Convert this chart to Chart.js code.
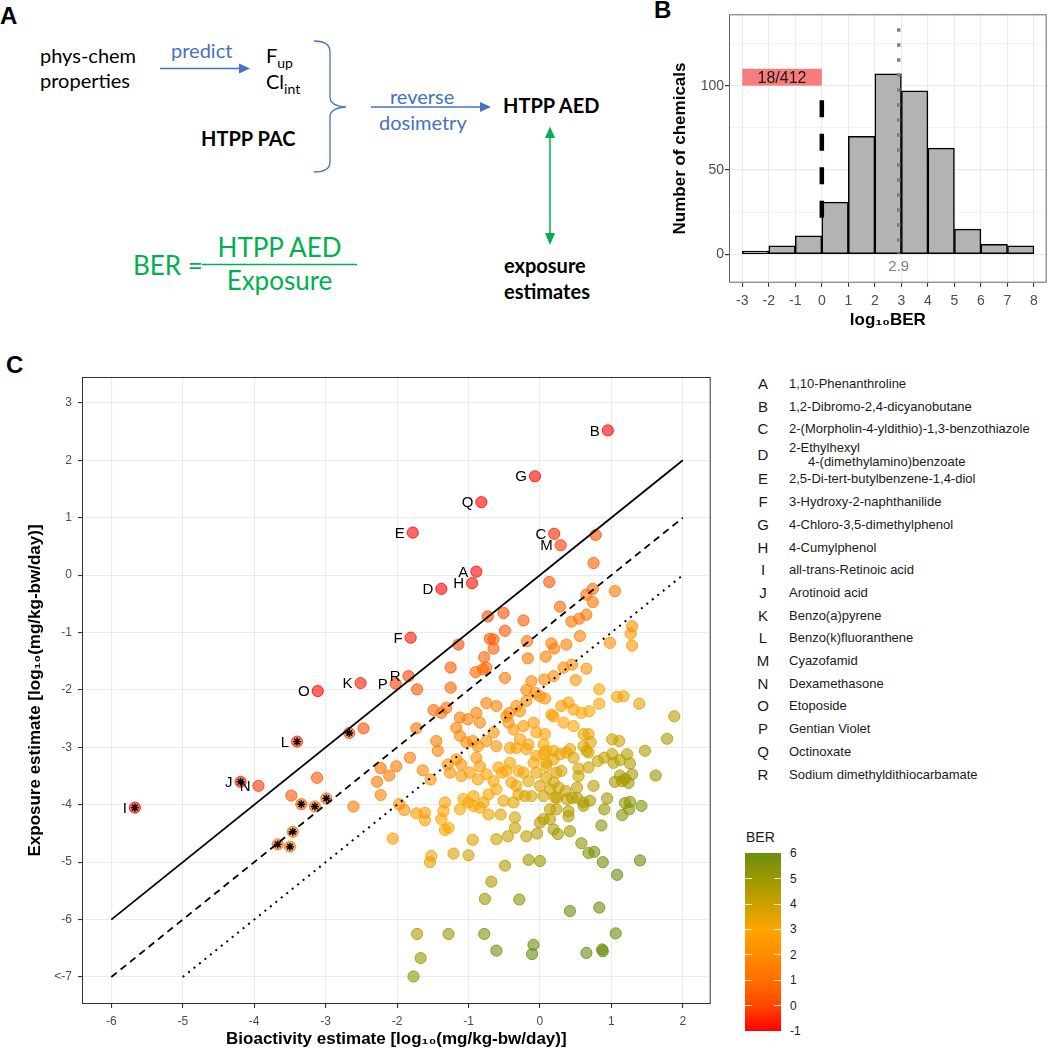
<!DOCTYPE html>
<html>
<head>
<meta charset="utf-8">
<script src="https://cdn.jsdelivr.net/npm/chart.js@4.4.1/dist/chart.umd.min.js"></script>
<style>
  body { margin: 0; background: #fff; width: 1049px; height: 1050px; position: relative; overflow: hidden;
         font-family: 'Liberation Sans', Arial, sans-serif; }
  #art { position: absolute; left: 0; top: 0; }
  #histB { position: absolute; left: 660px; top: 0; }
  #scatterC { position: absolute; left: 0; top: 340px; }
  .legLetter { position: absolute; width: 20px; text-align: center; font-size: 15px; color: #1a1a1a;
               transform: translateY(-50%); line-height: 16px; }
  .legName { position: absolute; font-size: 13px; color: #1a1a1a; white-space: nowrap;
             transform: translateY(-50%); line-height: 14px; }
  .cbLabel { position: absolute; font-size: 12px; color: #1a1a1a; transform: translateY(-50%); line-height: 12px; }
  .cbTick { position: absolute; height: 1px; width: 7px; background: rgba(255,255,255,0.8); }
</style>
</head>
<body>

<svg id="art" width="1049" height="1050">
  <g font-family="Lato, 'Open Sans', sans-serif" font-size="20" fill="#000">
    <text x="40" y="63">phys-chem</text>
    <text x="40" y="88">properties</text>
    <text x="171" y="58" fill="#4472c4">predict</text>
    <line x1="160" y1="68.5" x2="240" y2="68.5" stroke="#4472c4" stroke-width="1.5"/>
    <polygon points="239,63.5 250,68.5 239,73.5" fill="#4472c4"/>
    <text x="266" y="63">F<tspan font-size="14" dy="5">up</tspan></text>
    <text x="266" y="89">Cl<tspan font-size="14" dy="5">int</tspan></text>
    <path d="M314,41 Q330,41 330,52 L330,97 Q330,106 346,107 Q330,108 330,117 L330,162 Q330,172 314,172"
          fill="none" stroke="#4472c4" stroke-width="1.3"/>
    <text x="201" y="146" font-weight="bold">HTPP PAC</text>
    <text x="390" y="104" fill="#4472c4">reverse</text>
    <text x="379" y="130" fill="#4472c4">dosimetry</text>
    <line x1="371" y1="107" x2="481" y2="107" stroke="#4472c4" stroke-width="1.5"/>
    <polygon points="480,102 491,107 480,112" fill="#4472c4"/>
    <text x="503" y="113" font-weight="bold">HTPP AED</text>
    <line x1="550" y1="137" x2="550" y2="234" stroke="#00b050" stroke-width="1.5"/>
    <polygon points="545,138 550,126.5 555,138" fill="#00b050"/>
    <polygon points="545,233 550,245 555,233" fill="#00b050"/>
    <text x="504" y="273" font-weight="bold">exposure</text>
    <text x="504" y="299" font-weight="bold">estimates</text>
    <g fill="#00b050" font-size="26">
      <text x="133" y="275">BER =</text>
      <text x="279.5" y="257" text-anchor="middle">HTPP AED</text>
      <text x="279.5" y="290" text-anchor="middle">Exposure</text>
    </g>
    <line x1="202" y1="264.5" x2="357" y2="264.5" stroke="#00b050" stroke-width="1.5"/>
  </g>
  <g font-family="'Liberation Sans', Arial, sans-serif" font-weight="bold" font-size="24" fill="#000">
    <text x="0" y="24">A</text>
    <text x="654" y="18">B</text>
    <text x="6" y="373">C</text>
  </g>
</svg>

<canvas id="histB" width="389" height="340"></canvas>
<canvas id="scatterC" width="720" height="710"></canvas>
<div id="legend"></div>
<div id="cbar"></div>

<script>
// ---- panel B: histogram of log10 BER ----
const histBinStart = [-3, -2, -1, 0, 1, 2, 3, 4, 5, 6, 7];
const histCounts = [2, 5, 11, 31, 70, 107, 97, 63, 15, 6, 5];
const histXTicks = [-3, -2, -1, 0, 1, 2, 3, 4, 5, 6, 7, 8];
const histYTicks = [0, 25, 50, 75, 100, 125];
const medianBER = 2.9;
const belowText = '18/412';

// ---- panel C: bioactivity vs exposure (log10 mg/kg-bw/day) ----
const chemPoints = [
  [-2.67,-2.75],[-2.47,-2.67],[-3.12,-3.53],[-3.48,-3.84],[-3.34,-3.99],[-3.15,-4.03],[-2.99,-3.89],
  [-2.61,-4.03],[-3.46,-4.47],[-3.67,-4.69],[-3.50,-4.73],[-2.28,-3.60],[-2.23,-3.36],[-2.23,-3.83],
  [0.78,0.70],[0.75,0.21],
  [0.13,-0.12],[0.28,-0.55],[0.44,-0.81],[-0.51,-0.66],[-0.73,-0.72],[-0.23,-0.79],[-0.49,-0.97],
  [-1.14,-1.21],[-0.70,-1.11],[-0.65,-1.12],[-0.65,-1.28],[-0.18,-1.15],[0.16,-1.19],[0.20,-1.28],
  [0.37,-1.21],[-0.78,-1.43],[-0.17,-1.45],[0.08,-1.42],[-1.25,-1.61],[-0.90,-1.69],[-0.80,-1.64],
  [-0.75,-1.61],[-1.72,-1.99],[-1.25,-1.96],[-0.49,-1.79],[-0.12,-1.85],[0.06,-1.82],[0.19,-1.76],
  [0.33,-1.61],[0.45,-1.56],[-0.19,-2.00],[-0.07,-2.05],[0.00,-2.11],[0.07,-2.15],[-1.49,-2.35],
  [-1.38,-2.40],[-1.31,-2.31],[-1.12,-2.48],[-0.75,-2.23],[-0.61,-2.28],[-0.43,-2.40],[-0.33,-2.28],
  [-0.28,-2.37],[-0.19,-2.19],[0.16,-2.43],[0.30,-2.28],[0.40,-2.22],[0.47,-2.34],[-1.73,-2.67],
  [-1.17,-2.66],[-1.01,-2.51],[-0.89,-2.40],[-0.84,-2.57],[-0.65,-2.74],[-0.47,-2.46],[-0.44,-2.57],
  [-0.37,-2.69],[-0.23,-2.63],[-0.09,-2.57],[-0.05,-2.74],[0.07,-2.77],[0.19,-2.46],[0.33,-2.57],
  [0.47,-2.63],[-1.45,-2.89],[-1.43,-3.06],[-1.12,-2.80],[-1.03,-2.91],[-0.94,-2.89],[-0.87,-2.98],
  [-0.75,-2.89],[-0.61,-2.98],[-0.42,-3.01],[-0.28,-2.86],[-0.19,-3.03],[-1.82,-3.18],[0.19,-3.06],
  [0.37,-3.09],
  [1.05,-0.28],[0.74,-0.24],[0.65,-0.34],[0.74,-0.47],[0.65,-0.69],[0.55,-0.76],[1.29,-0.89],
  [1.27,-1.02],[1.29,-1.23],[0.98,-1.18],[0.56,-1.06],[0.65,-1.63],[0.50,-1.83],[0.83,-1.99],
  [1.08,-2.12],[1.17,-2.11],[1.39,-2.24],[0.83,-2.24],[0.69,-2.37],[0.58,-2.40],[1.88,-2.46],
  [0.61,-2.77],[0.68,-2.77],[0.71,-2.91],[1.01,-2.86],[1.11,-2.89],[1.78,-2.85],[1.47,-3.06],
  [1.22,-3.12],[1.01,-3.12],[0.90,-3.18],[0.65,-3.06],
  [-2.01,-3.33],[-2.11,-3.49],[-1.64,-3.40],[-1.53,-3.56],[-1.29,-3.30],[-1.26,-3.44],[-1.10,-3.30],
  [-1.10,-3.50],[-0.98,-3.44],[-0.84,-3.33],[-0.87,-3.56],[-0.75,-3.47],[-0.65,-3.59],[-0.58,-3.35],
  [-0.53,-3.44],[-0.42,-3.27],[-0.40,-3.61],[-0.33,-3.67],[-0.23,-3.44],[-0.09,-3.27],[-0.05,-3.44],
  [0.05,-3.12],[0.09,-3.27],[0.19,-3.21],[0.23,-3.44],[0.00,-3.67],[0.14,-3.73],[0.21,-3.87],
  [-0.30,-3.82],[-0.21,-3.85],[-0.37,-3.96],[-0.51,-3.93],[-0.55,-4.17],[-0.72,-3.82],[-0.79,-3.96],
  [-0.93,-3.85],[-1.00,-3.96],[-1.07,-3.90],[-1.12,-4.08],[-0.93,-4.02],[-0.84,-4.05],[-0.72,-4.17],
  [-1.33,-3.96],[-1.35,-4.11],[-1.38,-4.25],[-1.28,-4.40],[-1.33,-4.44],[-1.61,-4.14],[-1.61,-4.27],
  [-1.73,-4.15],[-1.90,-4.09],[-1.97,-3.99],[-2.06,-4.59],[-1.52,-4.89],[-1.54,-5.00],[-1.21,-4.85],
  [-1.00,-4.88],[-0.94,-4.61],[-0.61,-4.60],[-0.45,-4.55],[-0.35,-4.22],[-0.35,-4.40],[-0.19,-4.55],
  [-0.04,-4.50],[-0.49,-5.06],[-0.16,-4.96],[0.00,-4.98],[0.05,-4.25],[0.14,-4.25],[0.19,-4.43],
  [0.23,-4.08],[-0.33,-3.01],[-0.16,-2.95],[0.05,-2.95],[0.09,-3.06],[-0.05,-3.15],[-0.47,-3.41],
  [-0.30,-3.41],[-0.16,-3.59],[0.09,-3.53],[0.19,-3.61],[0.26,-3.70],[-0.12,-3.85],[0.05,-3.85],
  [0.14,-4.08],[0.00,-4.31],[-0.61,-3.73],[-1.17,-3.21],[-0.89,-3.18],
  [1.26,-3.28],[1.12,-3.22],[0.81,-3.24],[1.03,-3.27],[0.68,-3.35],[0.54,-3.37],[0.54,-3.50],
  [0.42,-3.03],[0.61,-2.98],[0.68,-3.09],[0.28,-3.12],[0.47,-3.18],[0.09,-3.33],[0.30,-3.41],
  [1.62,-3.49],[1.12,-3.49],[1.19,-3.55],[1.29,-3.47],[1.05,-3.60],[1.24,-3.62],[1.15,-3.59],
  [0.75,-3.67],[0.52,-3.70],[0.36,-3.76],[0.24,-3.88],[0.38,-3.90],[0.45,-3.88],[0.61,-3.96],
  [0.70,-3.93],[0.94,-3.89],[0.61,-4.02],[0.52,-3.88],[0.40,-4.11],[0.40,-4.20],[0.25,-4.51],
  [0.42,-4.46],[0.90,-4.08],[0.86,-4.36],[1.19,-3.97],[1.26,-3.95],[1.25,-4.08],[1.15,-4.18],
  [1.42,-4.02],[0.58,-4.67],[0.68,-4.84],[0.76,-4.82],[0.88,-5.00],[1.40,-4.97],[1.08,-5.22],
  [-0.68,-5.34],[-0.77,-5.64],[-0.29,-5.65],[0.42,-5.85],[0.83,-5.79],[-1.72,-6.25],[-1.28,-6.25],
  [-0.78,-6.25],[1.06,-6.24],[-1.67,-6.67],[-0.61,-6.54],[-0.09,-6.44],[-0.11,-6.60],[0.65,-6.58],
  [0.87,-6.52],[0.88,-6.55],[-1.77,-6.99]
];
const labelLetters = ['A','B','C','D','E','F','G','H','I','J','K','L','M','N','O','P','Q','R'];
const labelPoints = [
  [-0.89,0.06],[0.95,2.52],[0.20,0.72],[-1.38,-0.24],[-1.78,0.74],[-1.81,-1.09],[-0.07,1.72],
  [-0.95,-0.14],[-5.67,-4.05],[-4.19,-3.60],[-2.51,-1.88],[-3.40,-2.90],[0.29,0.52],[-3.94,-3.67],
  [-3.11,-2.02],[-2.02,-1.89],[-0.82,1.27],[-1.84,-1.76]
];
const labelNames = [
  '1,10-Phenanthroline', '1,2-Dibromo-2,4-dicyanobutane', '2-(Morpholin-4-yldithio)-1,3-benzothiazole',
  '2-Ethylhexyl|4-(dimethylamino)benzoate', '2,5-Di-tert-butylbenzene-1,4-diol', '3-Hydroxy-2-naphthanilide',
  '4-Chloro-3,5-dimethylphenol', '4-Cumylphenol', 'all-trans-Retinoic acid', 'Arotinoid acid',
  'Benzo(a)pyrene', 'Benzo(k)fluoranthene', 'Cyazofamid', 'Dexamethasone', 'Etoposide',
  'Gentian Violet', 'Octinoxate', 'Sodium dimethyldithiocarbamate'
];
const starredPoints = [
  [-5.67,-4.05],[-4.19,-3.60],[-3.40,-2.90],[-2.67,-2.75],[-3.34,-3.99],[-3.15,-4.03],
  [-2.99,-3.89],[-3.46,-4.47],[-3.67,-4.69],[-3.50,-4.73]
];
const solidLine = [[-6,-6],[2,2]];     // BER = 1
const dashedLine = [[-6,-7],[2,1]];    // BER = 10
const dottedLine = [[-5,-7],[2,0]];    // BER = 100
const scatterXTicks = [-6, -5, -4, -3, -2, -1, 0, 1, 2];
const scatterYTicks = [-7, -6, -5, -4, -3, -2, -1, 0, 1, 2, 3];

// colour scale for BER
const berStops = [-1, 0, 1, 2, 3, 4, 5, 6];
const berColors = ['#ff0000','#ff4800','#ff6e00','#ff8c00','#ffa500','#c9a100','#9a9800','#6b8e10'];

function hexRgb(h) { return [1, 3, 5].map(i => parseInt(h.substr(i, 2), 16)); }
function berColor(b, a) {
  b = Math.max(berStops[0], Math.min(berStops[berStops.length - 1], b));
  let i = 0;
  while (i < berStops.length - 2 && b > berStops[i + 1]) i++;
  const t = (b - berStops[i]) / (berStops[i + 1] - berStops[i]);
  const c0 = hexRgb(berColors[i]), c1 = hexRgb(berColors[i + 1]);
  const c = c0.map((v, k) => Math.round(v + (c1[k] - v) * t));
  return `rgba(${c[0]},${c[1]},${c[2]},${a})`;
}
const pointFill = ctx => ctx.raw ? berColor(ctx.raw.x - ctx.raw.y, 0.6) : 'rgba(0,0,0,0)';
const pointEdge = ctx => ctx.raw ? berColor(ctx.raw.x - ctx.raw.y, 0.8) : 'rgba(0,0,0,0)';
const toXY = arr => arr.map(([x, y]) => ({ x, y }));

Chart.defaults.font.family = "'Liberation Sans', Arial, sans-serif";
Chart.defaults.color = '#4d4d4d';

const panelFrame = {
  id: 'panelFrame',
  afterDraw(chart, args, opts) {
    const { ctx, chartArea: a } = chart;
    ctx.save();
    ctx.strokeStyle = opts.color || '#333';
    ctx.lineWidth = 1;
    ctx.strokeRect(a.left + 0.5, a.top + 0.5, a.width - 1, a.height - 1);
    ctx.restore();
  }
};

// histogram annotations
const histNotes = {
  id: 'histNotes',
  beforeDatasetsDraw(chart) {
    const { ctx, scales: { x, y } } = chart;
    const x0 = x.getPixelForValue(-3), x1 = x.getPixelForValue(0);
    const y0 = y.getPixelForValue(110), y1 = y.getPixelForValue(100);
    ctx.save();
    ctx.fillStyle = '#f77d7d';
    ctx.fillRect(x0, y0, x1 - x0, y1 - y0);
    ctx.fillStyle = '#1a1a1a';
    ctx.font = "16px 'Liberation Sans', Arial";
    ctx.textAlign = 'center';
    ctx.textBaseline = 'middle';
    ctx.fillText(belowText, (x0 + x1) / 2, (y0 + y1) / 2 + 1);
    ctx.fillStyle = '#808080';
    ctx.font = "15px 'Liberation Sans', Arial";
    ctx.fillText(String(medianBER), x.getPixelForValue(medianBER), y.getPixelForValue(-7.4));
    ctx.restore();
  }
};

new Chart(document.getElementById('histB'), {
  type: 'bar',
  data: {
    datasets: [
      {
        type: 'line', data: [{ x: medianBER, y: 134 }, { x: medianBER, y: 0 }],
        borderColor: '#808080', borderWidth: 3.5, borderDash: [3.5, 11.5], pointRadius: 0, order: 0
      },
      {
        type: 'line', data: [{ x: 0, y: 91.4 }, { x: 0, y: 20.4 }],
        borderColor: '#000', borderWidth: 4.5, borderDash: [17, 16.5], pointRadius: 0, order: 0
      },
      {
        data: histBinStart.map((b, i) => ({ x: b + 0.5, y: histCounts[i] })),
        backgroundColor: '#b3b3b3', borderColor: '#000', borderWidth: 1.5, borderSkipped: false,
        categoryPercentage: 1, barPercentage: 1, order: 1
      }
    ]
  },
  options: {
    responsive: false, animation: false, events: [],
    layout: { padding: { left: 0, right: 2.3, top: 14.3, bottom: 0 } },
    plugins: { legend: { display: false }, tooltip: { enabled: false }, panelFrame: { color: '#666' } },
    scales: {
      x: {
        type: 'linear', min: -3.5, max: 8.48, offset: false,
        afterBuildTicks: s => { s.ticks = histXTicks.map(v => ({ value: v })); },
        afterFit: s => { s.height = 57.3; },
        grid: { color: '#ebebeb', lineWidth: 1.1, tickLength: 4, tickColor: '#333', offset: false },
        border: { display: false },
        ticks: { font: { size: 14 }, color: '#4d4d4d', padding: 6.5, maxRotation: 0, autoSkip: false },
        title: { display: true, text: 'log₁₀BER', color: '#000', font: { size: 17, weight: 'bold' },
                 padding: { top: 0, bottom: 9.8 } }
      },
      y: {
        min: -16.8, max: 142.3,
        afterBuildTicks: s => { s.ticks = histYTicks.map(v => ({ value: v })); },
        afterFit: s => { s.width = 69; },
        grid: {
          color: '#ebebeb', tickLength: 4,
          lineWidth: c => (c.tick && c.tick.value % 50 === 0) ? 1.2 : 0.6,
          tickColor: c => (c.tick && c.tick.value % 50 === 0) ? '#333' : 'rgba(0,0,0,0)'
        },
        border: { display: false },
        ticks: { font: { size: 14 }, color: '#4d4d4d', padding: 1, autoSkip: false,
                 callback: v => v % 50 === 0 ? v : '' },
        title: { display: true, text: 'Number of chemicals', color: '#000', font: { size: 17, weight: 'bold' },
                 padding: { top: 10.4, bottom: 0 } }
      }
    }
  },
  plugins: [histNotes, panelFrame]
});

// letters next to labelled chemicals
const letterLabels = {
  id: 'letterLabels',
  afterDatasetsDraw(chart) {
    const { ctx, scales: { x, y } } = chart;
    ctx.save();
    ctx.font = "15px 'Liberation Sans', Arial";
    ctx.fillStyle = '#000';
    ctx.textAlign = 'right';
    ctx.textBaseline = 'middle';
    labelLetters.forEach((l, i) => {
      ctx.fillText(l, x.getPixelForValue(labelPoints[i][0]) - 8, y.getPixelForValue(labelPoints[i][1]) + 1);
    });
    ctx.restore();
  }
};

new Chart(document.getElementById('scatterC'), {
  type: 'scatter',
  data: {
    datasets: [
      { type: 'line', data: toXY(solidLine), borderColor: '#000', borderWidth: 1.8, pointRadius: 0,
        showLine: true, fill: false, order: 0 },
      { type: 'line', data: toXY(dashedLine), borderColor: '#000', borderWidth: 1.8, borderDash: [7, 5],
        pointRadius: 0, showLine: true, fill: false, order: 0 },
      { type: 'line', data: toXY(dottedLine), borderColor: '#000', borderWidth: 2, borderDash: [2, 5],
        pointRadius: 0, showLine: true, fill: false, order: 0 },
      { data: toXY(starredPoints), pointStyle: 'star', pointRadius: 4, pointBorderColor: '#000',
        pointBorderWidth: 1.4, pointBackgroundColor: 'rgba(0,0,0,0)', order: 1 },
      { data: toXY(labelPoints), pointRadius: 5.6, pointBackgroundColor: pointFill,
        pointBorderColor: pointEdge, pointBorderWidth: 1, order: 2 },
      { data: toXY(chemPoints), pointRadius: 5.6, pointBackgroundColor: pointFill,
        pointBorderColor: pointEdge, pointBorderWidth: 1, order: 3 }
    ]
  },
  options: {
    responsive: false, animation: false, events: [],
    layout: { padding: { left: 0, right: 9.3, top: 37, bottom: 0 } },
    plugins: { legend: { display: false }, tooltip: { enabled: false }, panelFrame: { color: '#333' } },
    scales: {
      x: {
        type: 'linear', min: -6.41, max: 2.39,
        afterBuildTicks: s => { s.ticks = scatterXTicks.map(v => ({ value: v })); },
        afterFit: s => { s.height = 46; },
        grid: { color: '#ebebeb', lineWidth: 1.1, tickLength: 4, tickColor: '#333' },
        border: { display: false },
        ticks: { font: { size: 12 }, color: '#4d4d4d', padding: 6, maxRotation: 0, autoSkip: false },
        title: { display: true, text: 'Bioactivity estimate [log₁₀(mg/kg-bw/day)]', color: '#000',
                 font: { size: 17, weight: 'bold' }, padding: { top: 0, bottom: 0 } }
      },
      y: {
        type: 'linear', min: -7.47, max: 3.45,
        afterBuildTicks: s => { s.ticks = scatterYTicks.map(v => ({ value: v })); },
        afterFit: s => { s.width = 82; },
        grid: { color: '#ebebeb', lineWidth: 1.1, tickLength: 4, tickColor: '#333' },
        border: { display: false },
        ticks: { font: { size: 12 }, color: '#4d4d4d', padding: 6, autoSkip: false,
                 callback: v => v === -7 ? '<-7' : v },
        title: { display: true, text: 'Exposure estimate [log₁₀(mg/kg-bw/day)]', color: '#000',
                 font: { size: 17, weight: 'bold' }, padding: { top: 25, bottom: 0 } }
      }
    }
  },
  plugins: [letterLabels, panelFrame]
});

// legend of labelled chemicals
const legend = document.getElementById('legend');
labelLetters.forEach((l, i) => {
  const yc = 384 + i * 22.7 + (i >= 3 ? 2.7 : 0) + (i >= 4 ? 1.9 : 0);
  const a = document.createElement('div');
  a.className = 'legLetter';
  a.style.left = '753px'; a.style.top = yc + 'px';
  a.textContent = l;
  legend.appendChild(a);
  const parts = labelNames[i].split('|');
  parts.forEach((p, k) => {
    const n = document.createElement('div');
    n.className = 'legName';
    n.style.left = (k === 0 ? 789 : 808) + 'px';
    n.style.top = (parts.length > 1 ? yc + (k === 0 ? -7 : 7) : yc) + 'px';
    n.textContent = p;
    legend.appendChild(n);
  });
});

// colour bar
const cbar = document.getElementById('cbar');
const cbTop = 853.3, cbBottom = 1031, cbLeft = 745, cbWidth = 36;
const lo = berStops[0], hi = berStops[berStops.length - 1];
const grad = berStops.map((s, i) => `${berColors[i]} ${((s - lo) / (hi - lo) * 100).toFixed(1)}%`).join(',');
const bar = document.createElement('div');
bar.style.cssText = `position:absolute;left:${cbLeft}px;top:${cbTop}px;width:${cbWidth}px;height:${cbBottom - cbTop}px;background:linear-gradient(to top, ${grad});`;
cbar.appendChild(bar);
const title = document.createElement('div');
title.style.cssText = 'position:absolute;left:746px;top:829px;font-size:14px;color:#1a1a1a;line-height:16px;';
title.textContent = 'BER';
cbar.appendChild(title);
berStops.forEach(s => {
  const yc = cbBottom - (s - lo) / (hi - lo) * (cbBottom - cbTop);
  const lab = document.createElement('div');
  lab.className = 'cbLabel';
  lab.style.left = '790px'; lab.style.top = yc + 'px';
  lab.textContent = s;
  cbar.appendChild(lab);
  if (s > lo && s < hi) {
    [cbLeft, cbLeft + cbWidth - 7].forEach(xl => {
      const t = document.createElement('div');
      t.className = 'cbTick';
      t.style.left = xl + 'px'; t.style.top = (yc - 0.5) + 'px';
      cbar.appendChild(t);
    });
  }
});
</script>
</body>
</html>
